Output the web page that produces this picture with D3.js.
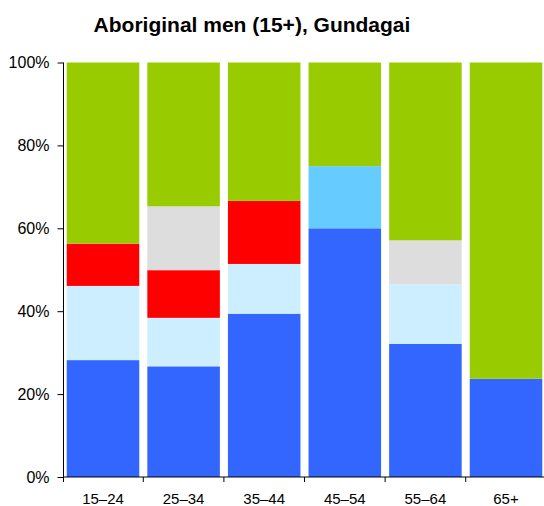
<!DOCTYPE html>
<html>
<head>
<meta charset="utf-8">
<script src="https://cdn.jsdelivr.net/npm/d3@7"></script>
<style>
body { margin: 0; background: #fff; }
text { font-family: "Liberation Sans", Arial, sans-serif; }
</style>
</head>
<body>
<script>
"use strict";
const ageGroups = ["15–24", "25–34", "35–44", "45–54", "55–64", "65+"];
const seriesNames = ["Employed full-time", "Employed part-time", "Employed, away from work", "Unemployed", "Not stated", "Not in labour force"];
const seriesColors = ["#3366ff", "#cceeff", "#66ccff", "#ff0000", "#dddddd", "#99cc00"];
const fullTime = [28.2, 26.7, 39.4, 60, 32.1, 23.7];
const partTime = [17.9, 11.7, 12.0, 0, 14.4, 0];
const awayFromWork = [0, 0, 0, 15, 0, 0];
const unemployed = [10.2, 11.5, 15.2, 0, 0, 0];
const notStated = [0, 15.4, 0, 0, 10.6, 0];
const notInLabourForce = [43.7, 34.7, 33.4, 25, 42.9, 76.3];
const yTicks = [0, 20, 40, 60, 80, 100];

const seriesValues = [fullTime, partTime, awayFromWork, unemployed, notStated, notInLabourForce];
const rows = ageGroups.map((g, i) => {
	const r = {group: g};
	seriesNames.forEach((s, j) => { r[s] = seriesValues[j][i]; });
	return r;
});

const size = {"width": 544, "height": 506};
const margin = {"top": 62.5, "right": -1.5, "bottom": 29, "left": 63.5};

const svg = d3.select("body").append("svg").attr("width", size.width).attr("height", size.height);

const x = d3.scaleBand().domain(ageGroups).range([margin.left, size.width - margin.right]).paddingInner(0.1).paddingOuter(0.04);
const y = d3.scaleLinear().domain([0, 100]).range([size.height - margin.bottom, margin.top]);

const stack = d3.stack().keys(seriesNames).offset(d3.stackOffsetExpand);
const layers = stack(rows);

svg.append("g").selectAll("g")
	.data(layers)
	.enter()
	.append("g")
	.attr("fill", (d, i) => seriesColors[i])
	.selectAll("rect")
	.data(d => d)
	.enter()
	.append("rect")
	.attr("x", d => x(d.data.group))
	.attr("y", d => y(d[1] * 100))
	.attr("width", x.bandwidth())
	.attr("height", d => y(d[0] * 100) - y(d[1] * 100));

// y axis
const yAxis = d3.axisLeft(y).tickValues(yTicks).tickFormat(d => d + "%").tickSize(6).tickPadding(8);
const gy = svg.append("g").attr("transform", "translate(" + margin.left + ",0)").call(yAxis);
gy.select(".domain").attr("stroke", "#000").attr("d", "M0," + y(100) + "V" + y(0));
gy.selectAll("text").style("font-size", "16px").attr("fill", "#000");

// x axis: ticks between bands
const bottom = size.height - margin.bottom;
const gx = svg.append("g");
gx.append("line").attr("x1", margin.left).attr("x2", size.width).attr("y1", bottom).attr("y2", bottom).attr("stroke", "#000");
const step = x.step();
gx.selectAll("line.tick")
	.data(ageGroups.slice(1))
	.enter()
	.append("line")
	.attr("class", "tick")
	.attr("x1", d => x(d) - step * x.paddingInner() / 2)
	.attr("x2", d => x(d) - step * x.paddingInner() / 2)
	.attr("y1", bottom)
	.attr("y2", bottom + 5)
	.attr("stroke", "#000");
gx.append("line").attr("x1", margin.left).attr("x2", margin.left).attr("y1", bottom).attr("y2", bottom + 5).attr("stroke", "#000");
gx.selectAll("text")
	.data(ageGroups)
	.enter()
	.append("text")
	.attr("x", d => x(d) + x.bandwidth() / 2)
	.attr("y", bottom + 27)
	.attr("text-anchor", "middle")
	.style("font-size", "15px")
	.text(d => d);

svg.append("text")
	.attr("x", 252)
	.attr("y", 32)
	.attr("text-anchor", "middle")
	.style("font-size", "21px")
	.style("font-weight", "bold")
	.text("Aboriginal men (15+), Gundagai");
</script>
</body>
</html>
